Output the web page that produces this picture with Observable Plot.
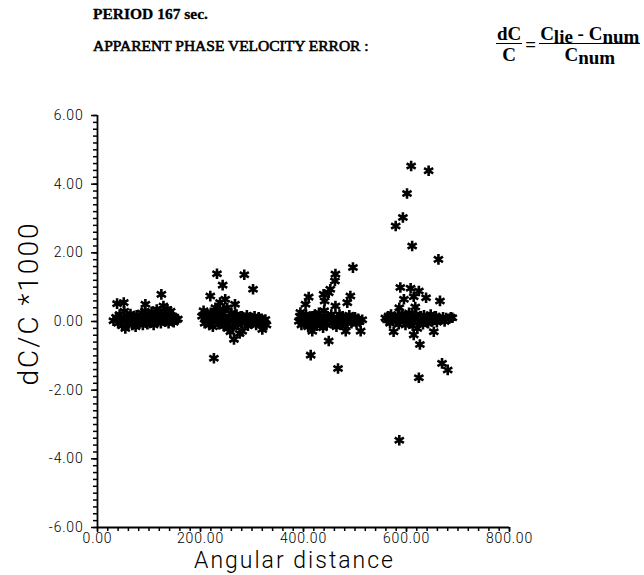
<!DOCTYPE html>
<html>
<head>
<meta charset="utf-8">
<script src="https://cdn.jsdelivr.net/npm/d3@7"></script>
<script src="https://cdn.jsdelivr.net/npm/@observablehq/plot@0.6"></script>
<style>
  html, body { margin: 0; padding: 0; background: #fff; }
  #page { position: relative; width: 644px; height: 575px; overflow: hidden; }
  #hdr { position: relative; height: 75px; font-family: "Liberation Serif", "Times New Roman", serif; color: #000; }
  #hdr .t1 { position: absolute; left: 93px; top: 5px; font-weight: bold; font-size: 15.5px; -webkit-text-stroke: 0.3px #000; }
  #hdr .t2 { position: absolute; left: 93px; top: 37px; font-size: 15.5px; -webkit-text-stroke: 0.6px #000; }
  #hdr .eq { position: absolute; left: 496px; top: 24px; display: flex; align-items: center; font-weight: bold; font-size: 19px; }
  .frac { display: inline-flex; flex-direction: column; align-items: center; }
  .num { border-bottom: 1.5px solid #000; padding: 0 1px; line-height: 19px; }
  .den { line-height: 21px; }
  .sub { position: relative; top: 3px; }
  #chart text { fill: #000; }
  #chart .lbl text { letter-spacing: 2px; }
  #chart g[aria-label="y-axis tick label"] text, #chart g[aria-label="x-axis tick label"] text { letter-spacing: 0.8px; }
</style>
</head>
<body>
<div id="page">
  <div id="hdr">
    <div class="t1">PERIOD 167 sec.</div>
    <div class="t2">APPARENT PHASE VELOCITY ERROR :</div>
    <div class="eq">
      <div class="frac"><span class="num">dC</span><span class="den">C</span></div>
      <span style="margin:0 3px;">=</span>
      <div class="frac"><span class="num">C<span class="sub">lie</span> - C<span class="sub">num</span></span><span class="den">C<span class="sub">num</span></span></div>
    </div>
  </div>
  <div id="chart"></div>
</div>
<script>
// Tick labels
const xTicks = [0, 200, 400, 600, 800];
const yTicks = [-6, -4, -2, 0, 2, 4, 6];
const yLabel = "dC/C *1000";
const xLabel = "Angular distance";

// Data: [angular distance, dC/C * 1000]
const cluster1 = [
  [31,0.02],[36,0.12],[38,0.52],[40,-0.05],[43,0.2],[45,0.08],[48,-0.12],[51,0.55],[52,0.3],[54,-0.2],
  [56,0.05],[58,0.15],[60,-0.08],[62,0.1],[64,0.22],[66,0.0],[68,-0.1],[70,0.12],[72,0.05],[74,-0.15],
  [76,0.18],[78,0.08],[80,-0.05],[82,0.15],[84,0.02],[86,0.25],[88,-0.1],[90,0.1],[92,0.3],[93,0.5],
  [95,0.05],[97,-0.08],[99,0.2],[101,0.12],[103,-0.02],[105,0.28],[107,0.1],[109,-0.1],[111,0.18],[113,0.05],
  [115,0.35],[117,0.0],[119,0.15],[121,0.3],[123,-0.05],[124,0.79],[126,0.1],[128,0.45],[130,0.22],[132,0.0],
  [134,0.12],[136,0.35],[138,-0.05],[140,0.2],[142,0.3],[144,0.08],[146,0.15],[148,-0.02],[150,0.1],[153,0.05],[156,0.07]
];
const cluster2 = [
  [203,0.15],[206,0.31],[208,-0.05],[210,0.1],[213,0.0],[215,0.2],[217,-0.1],[219,0.74],[220,0.25],[222,0.05],
  [224,-0.15],[226,-1.07],[227,0.15],[229,0.4],[231,0.0],[232,1.39],[233,0.3],[235,-0.08],[236,0.12],[238,0.55],
  [240,0.2],[241,-0.05],[243,1.06],[244,0.35],[245,-0.13],[247,0.1],[248,0.65],[250,0.0],[252,0.4],[253,-0.2],
  [255,0.15],[257,0.05],[258,-0.3],[260,0.25],[262,0.08],[263,-0.15],[265,-0.52],[266,0.1],[267,0.5],[269,0.0],
  [270,0.2],[272,-0.1],[274,0.12],[276,-0.35],[278,0.05],[280,0.15],[281,-0.28],[283,0.08],[285,1.36],[286,-0.05],
  [288,0.1],[290,0.18],[292,-0.12],[294,0.05],[296,0.12],[298,-0.05],[300,0.1],[302,0.94],[303,0.0],[305,0.15],
  [308,-0.1],[310,0.05],[313,0.12],[316,-0.08],[318,0.08],[320,-0.23],[323,0.02],[326,0.06],[328,-0.1]
];
const cluster3 = [
  [391,0.01],[393,0.15],[394,0.26],[396,-0.1],[398,0.05],[400,0.12],[402,-0.05],[404,0.5],[405,0.2],[407,0.0],
  [409,-0.15],[410,0.71],[412,0.1],[414,-0.98],[415,0.05],[417,-0.28],[418,0.15],[420,-0.08],[422,0.2],[424,0.02],
  [426,-0.12],[428,0.1],[430,0.25],[432,-0.05],[434,0.12],[436,0.0],[438,-0.18],[439,0.79],[440,0.31],[441,0.6],
  [443,0.08],[445,-0.1],[447,0.15],[449,0.84],[449,-0.57],[451,0.05],[452,0.94],[454,0.2],[456,-0.05],[458,0.1],
  [460,0.0],[461,1.18],[462,1.38],[462,0.45],[464,-0.15],[466,0.12],[467,-1.37],[468,0.05],[470,0.2],[472,-0.08],
  [474,0.1],[476,0.15],[478,0.0],[480,-0.12],[482,-0.28],[484,0.1],[485,0.55],[487,0.05],[489,0.18],[491,0.74],
  [493,-0.05],[495,0.1],[496,1.57],[498,0.02],[500,0.12],[503,-0.06],[506,0.08],[509,0.0],[511,-0.28],[514,0.05]
];
const cluster4 = [
  [559,0.1],[562,0.05],[565,0.15],[568,-0.05],[570,0.2],[573,0.08],[575,-0.3],[577,0.12],[579,2.78],[580,0.0],
  [583,0.18],[585,-0.08],[586,-3.46],[586,0.4],[588,0.99],[590,0.1],[592,0.22],[593,3.03],[595,0.65],[596,0.05],
  [598,-0.1],[600,0.15],[601,3.73],[603,0.0],[605,0.25],[607,-0.05],[608,0.97],[609,4.53],[610,0.12],[611,2.2],
  [612,-0.12],[614,0.72],[614,-0.39],[616,0.08],[617,0.42],[619,0.2],[621,-0.2],[622,0.1],[624,0.89],[624,-1.64],
  [625,0.0],[626,-0.67],[628,0.15],[630,0.05],[632,-0.08],[634,0.18],[636,0.02],[638,0.69],[640,0.1],[642,-0.05],
  [643,4.39],[645,0.12],[647,0.2],[649,0.0],[651,0.1],[653,-0.3],[655,0.05],[657,0.15],[659,-0.02],[662,1.81],
  [663,0.1],[665,0.6],[667,0.05],[669,-1.22],[671,0.12],[674,0.0],[677,0.1],[680,-1.41],[683,0.08],[686,0.12],[689,0.11]
];

const points = [...cluster1, ...cluster2, ...cluster3, ...cluster4].map(([x, y]) => ({x, y}));
const xMinor = d3.range(0, 801, 20);
const yMinor = d3.range(-60, 61, 2).map(v => v / 10);

const axisFont = "Roboto, 'DejaVu Sans', sans-serif";

const chart = Plot.plot({
  width: 644,
  height: 500,
  marginLeft: 97,
  marginRight: 135,
  marginTop: 40,
  marginBottom: 48,
  style: { fontFamily: axisFont, fontSize: "14px", color: "#000", background: "#fff" },
  x: { domain: [0, 800] },
  y: { domain: [-6, 6] },
  marks: [
    Plot.ruleX([0], { stroke: "#000", strokeWidth: 1.8 }),
    Plot.ruleY([-6], { stroke: "#000", strokeWidth: 1.8 }),
    Plot.axisY({ ticks: yMinor, tickSize: 4, text: null, label: null, stroke: "#000", strokeWidth: 1.5 }),
    Plot.axisY({ ticks: yTicks, tickSize: 6, tickPadding: 8, tickFormat: d => d.toFixed(2), label: null, stroke: "#000", strokeWidth: 1.5, fill: "#000", fontSize: 14, fontWeight: 300 }),
    Plot.axisX({ ticks: xMinor, tickSize: 4, text: null, label: null, stroke: "#000", strokeWidth: 1.5 }),
    Plot.axisX({ ticks: xTicks, tickSize: 5, tickPadding: 1, tickFormat: d => d.toFixed(2), label: null, stroke: "#000", strokeWidth: 1.5, fill: "#000", fontSize: 14, fontWeight: 300 }),
    Plot.text([yLabel], { frameAnchor: "left", dx: -68, dy: -18, rotate: -90, fontSize: 28, fontWeight: 300, fill: "#000", textAnchor: "middle", lineAnchor: "middle", className: "lbl" }),
    Plot.text([xLabel], { frameAnchor: "bottom", dx: -9, dy: 33, fontSize: 23, fontWeight: 300, fill: "#000", textAnchor: "middle", lineAnchor: "middle", className: "lbl" }),
    Plot.dot(points, { x: "x", y: "y", symbol: "asterisk", r: 5, stroke: "#000", strokeWidth: 2.6 })
  ]
});
document.getElementById("chart").appendChild(chart);
</script>
</body>
</html>
